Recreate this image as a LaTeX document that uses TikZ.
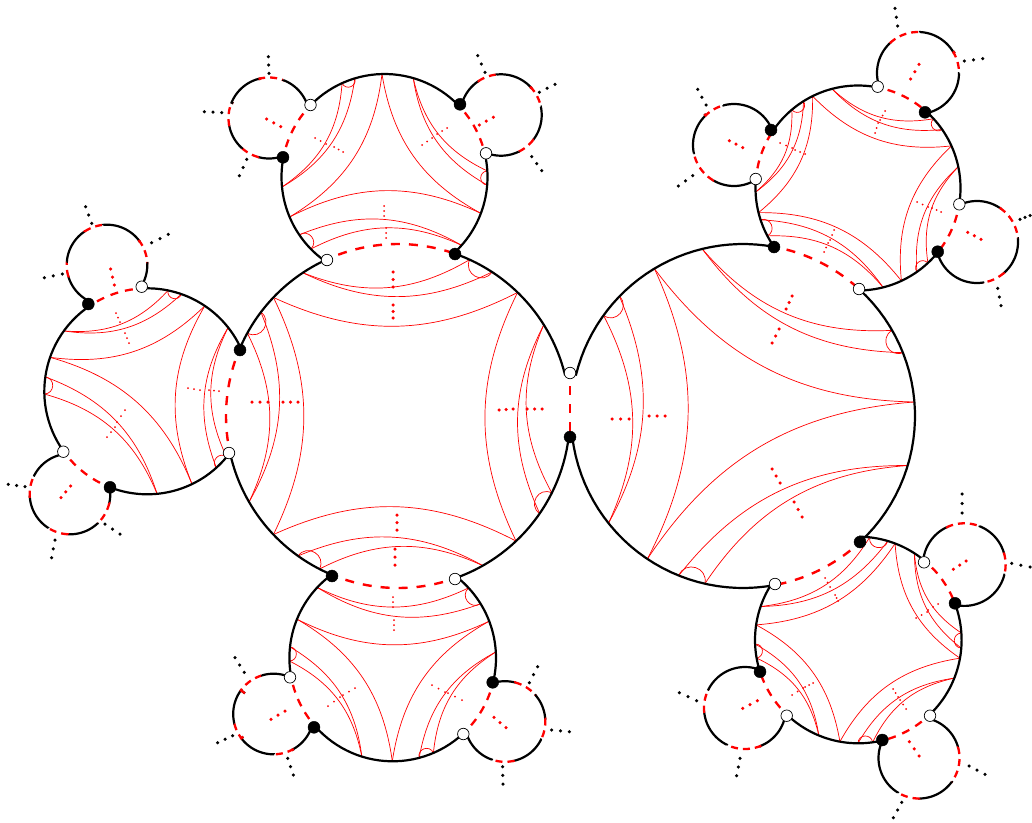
\documentclass[tikz,border=0pt]{standalone}
\tikzset{
  bkrim/.style={black, line width=2.2pt},
  rdrim/.style={red, line width=2.3pt, dash pattern=on 7pt off 5pt},
  rdport/.style={red, line width=2.3pt, dash pattern=on 8pt off 7pt, dash phase=4pt},
  rdmain/.style={red, line width=2.4pt, dash pattern=on 9pt off 9pt, dash phase=5pt},
  geoline/.style={red, line width=0.7pt},
  bkdots/.style={black, radius=1.75pt},
  rddots/.style={red, radius=1.75pt},
  thindots/.style={red, radius=1pt},
  blackpt/.style={circle, fill=black, draw=black, inner sep=0pt, minimum size=12pt},
  whitept/.style={circle, fill=white, draw=black, line width=0.7pt, inner sep=0pt, minimum size=11.5pt}
}
% arc of a disk, clockwise on the page, between two points
\newcommand{\rimarc}[8]{
  \pgfmathsetmacro\aone{atan2(#6-#3,#5-#2)}
  \pgfmathsetmacro\atwo{atan2(#8-#3,#7-#2)}
  \pgfmathsetmacro\atwo{\atwo<\aone ? \atwo+360 : \atwo}
  \draw[#1] (#5,#6) -- plot[domain=\aone:\atwo,samples=30,variable=\t] ({#2+#4*cos(\t)},{#3+#4*sin(\t)}) -- (#7,#8);
}
\newcommand{\rimchain}[6]{
  \foreach \xb/\yb/\stl [remember=\xb as \xa (initially #4),remember=\yb as \ya (initially #5)] in {#6}
    {\rimarc{\stl}{#1}{#2}{#3}{\xa}{\ya}{\xb}{\yb}}
}
% curves between two rim points: short ones stand square on the rim, long ones bend by a fixed amount
\newcommand{\geolist}[4]{
  \foreach \xa/\ya/\xb/\yb in {#4} {
    \pgfmathsetmacro\aone{atan2(\ya-#2,\xa-#1)}
    \pgfmathsetmacro\atwo{atan2(\yb-#2,\xb-#1)}
    \pgfmathsetmacro\half{acos(cos(\atwo-\aone))/2}
    \pgfmathsetmacro\pax{#1+#3*cos(\aone)}
    \pgfmathsetmacro\pay{#2+#3*sin(\aone)}
    \pgfmathsetmacro\pbx{#1+#3*cos(\atwo)}
    \pgfmathsetmacro\pby{#2+#3*sin(\atwo)}
    \pgfmathsetmacro\kk{4/3*tan(45-\half/2)*tan(\half)}
    \pgfmathsetmacro\dx{\pbx-\pax}
    \pgfmathsetmacro\dy{\pby-\pay}
    \pgfmathsetmacro\sd{((#1-\pax)*0.01*(-\dy)*0.01+(#2-\pay)*0.01*\dx*0.01)>0 ? 1 : -1}
    \pgfmathsetmacro\cax{\half<15 ? \pax+\kk*(#1-\pax) : \pax+0.35*\dx-0.171*\sd*\dy}
    \pgfmathsetmacro\cay{\half<15 ? \pay+\kk*(#2-\pay) : \pay+0.35*\dy+0.171*\sd*\dx}
    \pgfmathsetmacro\cbx{\half<15 ? \pbx+\kk*(#1-\pbx) : \pbx-0.35*\dx-0.171*\sd*\dy}
    \pgfmathsetmacro\cby{\half<15 ? \pby+\kk*(#2-\pby) : \pby-0.35*\dy+0.171*\sd*\dx}
    \draw[geoline] (\pax,\pay) .. controls (\cax,\cay) and (\cbx,\cby) .. (\pbx,\pby);
  }
}
% three dots between two end points
\newcommand{\dotlist}[2]{
  \foreach \xa/\ya/\xb/\yb in {#2}
    \foreach \tt in {0,0.5,1}
      \fill[#1] ({\xa+\tt*(\xb-\xa)},{\ya+\tt*(\yb-\ya)}) circle;
}
\begin{document}
\begin{tikzpicture}[x=1pt, y=-1pt]
 \useasboundingbox (0,0) rectangle (1032,822);
 % left big disk
 \geolist{398}{416}{172}{303/273/469/261, 303/273/492/272, 469/261/492/272, 274/298/518/292,
   518/292/516/541, 545/324/539/513, 545/324/552/493, 539/513/552/493,
   274/534/516/541, 298/556/483/566, 320/568/483/566, 298/556/320/568,
   274/298/274/534, 262/313/249/502, 249/334/249/502, 262/313/249/334}
 \rimarc{bkrim}{398}{416}{172}{570}{437}{455}{579}
 \rimarc{bkrim}{398}{416}{172}{332}{576}{229}{453}
 \rimarc{bkrim}{398}{416}{172}{240}{350}{327}{260}
 \rimarc{bkrim}{398}{416}{172}{455}{254}{570}{373}
 \rimarc{rdmain}{398}{416}{172}{327}{260}{455}{254}
 \rimarc{rdmain}{398}{416}{172}{455}{579}{332}{576}
 \rimarc{rdmain}{398}{416}{172}{229}{453}{240}{350}
 \dotlist{rddots}{393/272/393/287, 393/305/393/318, 252/402/268/402, 283/402/298/402,
   499/410/513/409, 527/409/542/409, 395/549/395/565, 397/515/397/530}
 % right big disk
 \geolist{743}{416}{172}{618/295/610/522, 603/315/610/522, 618/295/603/315, 654/268/648/558,
   702/248/891/331, 702/248/902/353, 891/331/902/353, 654/268/914/402,
   648/558/914/402, 679/575/906/465, 705/583/906/465, 679/575/705/583}
 \rimarc{bkrim}{743}{416}{172}{859}{289}{860}{542}
 \rimarc{bkrim}{743}{416}{172}{775}{584}{570}{437}
 \rimarc{bkrim}{743}{416}{172}{570}{373}{774}{247}
 \rimarc{rdmain}{743}{416}{172}{774}{247}{859}{289}
 \rimarc{rdmain}{743}{416}{172}{860}{542}{775}{584}
 \draw[rdmain] (570,373) -- (570,437);
 \dotlist{rddots}{792/296/786/309, 779/329/772/343, 772/469/780/483, 794/502/802/517,
   612/419/629/419, 649/416/665/416}
 % top disk
 \geolist{384.5}{177}{103}{342/83/282/187, 355/79/282/187, 342/83/355/79, 382/75/292/216,
   382/75/480/213, 413/79/487/185, 413/79/487/171, 487/185/487/171,
   292/216/480/213, 302/233/459/243, 315/245/459/243, 302/233/315/245}
 \rimarc{bkrim}{384.5}{177}{103}{310.5}{105}{460}{104.3}
 \rimarc{bkrim}{384.5}{177}{103}{486}{153.3}{455}{254}
 \rimarc{bkrim}{384.5}{177}{103}{327}{260}{283}{157.3}
 \rimarc{rdport}{384.5}{177}{103}{283}{157.3}{310.5}{105}
 \rimarc{rdport}{384.5}{177}{103}{460}{104.3}{486}{153.3}
 \dotlist{thindots}{315/138/326/144, 334/147/343/152, 422/145/432/138, 437/134/447/128,
   384/206/384/216, 386/228/386/238}
 \rimchain{269}{118}{40.5}{283}{157.3}{258.3/156.7/bkrim, 241.7/148.3/rdrim, 230/125/bkrim,
   233.3/103.3/rdrim, 260/80/bkrim, 283.3/80/rdrim, 310.5/105/bkrim}
 \dotlist{bkdots}{246.7/159.3/239.3/175.7, 221.7/112.7/204.3/111.7, 269/73.3/268.3/56.7}
 \dotlist{rddots}{266.7/119/280.7/126.7}
 \rimchain{501}{115}{40.7}{460}{104.3}{478.3/80.7/bkrim, 496.7/75/rdrim, 530/88.3/bkrim,
   540.7/106.7/rdrim, 533.3/140/bkrim, 518.3/151.7/rdrim, 486/153.3/bkrim}
 \dotlist{bkdots}{485/72.3/477.7/55.7, 539.3/92.3/555/84.3, 531.7/156.7/541.7/170.7}
 \dotlist{rddots}{479.3/125/493.3/117.3}
 % left disk
 \geolist{147.3}{391.3}{103}{64/331/168/291, 64/331/181/295, 168/291/181/295, 52/358/204/307,
   204/307/191/482, 225/330/213/464, 225/330/223/454, 213/464/223/454,
   52/358/191/482, 46/377/157/493, 45/394/157/493, 46/377/45/394}
 \rimarc{bkrim}{147.3}{391.3}{103}{141.7}{286.7}{240}{350}
 \rimarc{bkrim}{147.3}{391.3}{103}{229}{453}{110}{487.3}
 \rimarc{bkrim}{147.3}{391.3}{103}{63.3}{451.7}{88.3}{304}
 \rimarc{rdport}{147.3}{391.3}{103}{88.3}{304}{141.7}{286.7}
 \rimarc{rdport}{147.3}{391.3}{103}{110}{487.3}{63.3}{451.7}
 \dotlist{thindots}{116/313/120/322, 125/333/129/343, 188/388/200/390, 209/390/219/391,
   107/437/115/427, 117/422/125/410}
 \rimchain{107}{265}{40.3}{88.3}{304}{68.3/276.7/bkrim, 66.7/261.7/rdrim, 85/231.7/bkrim,
   103.3/225/rdrim, 138.3/241.7/bkrim, 146.7/263.3/rdrim, 141.7/286.7/bkrim}
 \dotlist{bkdots}{62.3/274/44.3/277.7, 91.7/223.3/85.7/206.7, 151.7/242.7/168.3/234.3}
 \dotlist{rddots}{110.7/269/114.3/285}
 \rimchain{70}{494}{40.3}{110}{487.3}{109/503.3/bkrim, 97/523/rdrim, 68/534.3/bkrim,
   48/528/rdrim, 30.7/496.7/bkrim, 33.3/475/rdrim, 63.3/451.7/bkrim}
 \dotlist{bkdots}{25/486.7/8.3/484.3, 55/540/51.7/557.7, 105/524/120/534}
 \dotlist{rddots}{70.7/486/61/497.7}
 % bottom disk
 \geolist{392.7}{658}{103.3}{320/590/463/593, 320/590/477/606, 463/593/477/606, 299/620/487/622,
   299/620/392.3/760, 291/647/362/756, 290/661/362/756, 291/647/290/661,
   392.3/760/487/622, 495/652/419/757, 495/652/433/752, 419/757/433/752}
 \rimarc{bkrim}{392.7}{658}{103.3}{455}{579}{492.7}{682.3}
 \rimarc{bkrim}{392.7}{658}{103.3}{463.3}{734}{314}{727.3}
 \rimarc{bkrim}{392.7}{658}{103.3}{290}{677.3}{332}{576}
 \rimarc{rdport}{392.7}{658}{103.3}{492.7}{682.3}{463.3}{734}
 \rimarc{rdport}{392.7}{658}{103.3}{314}{727.3}{290}{677.3}
 \dotlist{thindots}{393/597/393/607, 394/620/394/630, 328/706/340/697, 343/695/355/688,
   432/685/445/692, 448/693/462/700}
 \rimchain{273.5}{714}{40.3}{314}{727.3}{293.3/750.7/bkrim, 274/754.3/rdrim, 243.3/736.7/bkrim,
   234.3/723.3/rdrim, 245/693.3/bkrim, 262/674.7/rdrim, 290/677.3/bkrim}
 \dotlist{bkdots}{287.7/758.3/293.3/775, 232.7/735.7/217.7/742.7, 244.3/672.3/235/657.7}
 \dotlist{rddots}{285/711/271/719.3}
 \rimchain{505}{721.5}{40.3}{492.7}{682.3}{515/682.7/bkrim, 535/695.7/rdrim, 545/718.7/bkrim,
   541.7/740/rdrim, 513.3/760/bkrim, 491.7/760/rdrim, 463.3/734/bkrim}
 \dotlist{bkdots}{529.3/682.7/537.7/666.7, 551.7/730/569.3/731.7, 502.7/766.7/503/784}
 \dotlist{rddots}{494/717.3/506/727.7}
 % upper right disk
 \geolist{858}{188}{102.5}{792/110/757/192, 804/102/757/192, 792/110/804/102, 813/97/761/212,
   813/97/949/147, 832/89/930/122, 832/89/940/131, 930/122/940/131,
   949/147/901/280, 957/167/917/272, 957/167/927/262, 917/272/927/262,
   761/212/901/280, 763/219/883/287, 771/234/883/287, 763/219/771/234}
 \rimarc{bkrim}{858}{188}{102.5}{771}{130}{877.7}{86.7}
 \rimarc{bkrim}{858}{188}{102.5}{925}{112.3}{959.3}{204.3}
 \rimarc{bkrim}{858}{188}{102.5}{937.7}{251.7}{859}{289}
 \rimarc{bkrim}{858}{188}{102.5}{774}{247}{755.7}{179}
 \rimarc{rdport}{858}{188}{102.5}{755.7}{179}{771}{130}
 \rimarc{rdport}{858}{188}{102.5}{877.7}{86.7}{925}{112.3}
 \rimarc{rdport}{858}{188}{102.5}{959.3}{204.3}{937.7}{251.7}
 \dotlist{thindots}{780/143/792/148, 795/150/805/154, 885/111/880/120, 878/123/875/133,
   917/202/928/207, 932/208/941/212, 834/230/830/240, 828/243/824/252}
 \rimchain{734}{145}{41}{755.7}{179}{713.3/180/bkrim, 693.3/153.3/rdrim, 704.3/114/bkrim,
   723.3/105/rdrim, 771/130/bkrim}
 \dotlist{bkdots}{692.7/175.7/678.3/186, 706/105/697.7/89.3}
 \dotlist{rddots}{729.3/140.7/742.7/147.7}
 \rimchain{918}{73}{41}{877.7}{86.7}{890/41.7/bkrim, 920/32.3/rdrim, 955/51.7/bkrim,
   959.3/73.3/rdrim, 925/112.3/bkrim}
 \dotlist{bkdots}{897.7/26/895/8.3, 964.3/61/982.7/58.7}
 \dotlist{rddots}{910.7/79/919/64.3}
 \rimchain{977}{242}{41}{959.3}{204.3}{1000/209.3/bkrim, 1017.7/238.3/rdrim, 1003.3/272.7/bkrim,
   983.3/283.3/rdrim, 937.7/251.7/bkrim}
 \dotlist{bkdots}{1020/219.3/1030/215.5, 997.7/288.3/1001/305.7}
 \dotlist{rddots}{967.7/232.3/981/239.3}
 % lower right disk
 \geolist{858.3}{640}{103.3}{869/543/762/607, 886/547/762/607, 869/543/886/547, 893/549/757/625,
   893/549/959/658, 912/557/961/633, 912/557/960/648, 961/633/960/648,
   959/658/840/741, 954/678/858/742, 954/678/872/738, 858/742/872/738,
   757/625/840/741, 756/644/819/735, 757/658/819/735, 756/644/757/658}
 \rimarc{bkrim}{858.3}{640}{103.3}{860}{542}{924}{562.3}
 \rimarc{bkrim}{858.3}{640}{103.3}{955}{603.3}{930}{715.7}
 \rimarc{bkrim}{858.3}{640}{103.3}{882.3}{740}{786.7}{715.7}
 \rimarc{bkrim}{858.3}{640}{103.3}{760}{671.7}{775}{584}
 \rimarc{rdport}{858.3}{640}{103.3}{924}{562.3}{955}{603.3}
 \rimarc{rdport}{858.3}{640}{103.3}{930}{715.7}{882.3}{740}
 \rimarc{rdport}{858.3}{640}{103.3}{786.7}{715.7}{760}{671.7}
 \dotlist{thindots}{825/578/830/587, 835/595/838/601, 916/618/927/612, 928/610/938/604,
   893/689/898/697, 900/700/906/709, 792/695/803/688, 805/687/813/683}
 \rimchain{964.3}{564.6}{41.3}{924}{562.3}{946.7/526.7/bkrim, 980/525.7/rdrim, 1005/553.3/bkrim,
   1005/575/rdrim, 955/603.3/bkrim}
 \dotlist{bkdots}{1011.7/563.3/1030/567, 962/494/962/513}
 \dotlist{rddots}{953.3/569.3/966/561}
 \rimchain{745}{708}{41}{786.7}{715.7}{760.7/747.3/bkrim, 726.7/745/rdrim, 705/711.7/bkrim,
   709.3/690/rdrim, 760/671.7/bkrim}
 \dotlist{bkdots}{740/758.3/736.7/775.7, 696.7/700.7/679.3/692.7}
 \dotlist{rddots}{757.3/700.7/742.7/708.3}
 \rimchain{919}{758}{40.5}{930}{715.7}{958.3/747.3/bkrim, 951.7/781.7/rdrim, 919.3/798.3/bkrim,
   897.7/792.7/rdrim, 882.3/740/bkrim}
 \dotlist{bkdots}{969/766/985/774.3, 901.7/802.3/893.3/817.7}
 \dotlist{rddots}{909.3/741.7/919/756}
 % marked points
 \node[whitept] (lrw) at (570,373) {};
 \node[blackpt] (lrb) at (570,437) {};
 \node[whitept] (ltw) at (327,260) {};
 \node[blackpt] (ltb) at (455,254) {};
 \node[blackpt] (lmb) at (240,350) {};
 \node[whitept] (lmw) at (229,453) {};
 \node[blackpt] (lbb) at (332,576) {};
 \node[whitept] (lbw) at (455,579) {};
 \node[blackpt] (reb) at (774,247) {};
 \node[whitept] (rew) at (859,289) {};
 \node[blackpt] (rfb) at (860,542) {};
 \node[whitept] (rfw) at (775,584) {};
 \node[blackpt] (t1b) at (283,157.3) {};
 \node[whitept] (t1w) at (310.5,105) {};
 \node[blackpt] (t2b) at (460,104.3) {};
 \node[whitept] (t2w) at (486,153.3) {};
 \node[blackpt] (m1b) at (88.3,304) {};
 \node[whitept] (m1w) at (141.7,286.7) {};
 \node[blackpt] (m2b) at (110,487.3) {};
 \node[whitept] (m2w) at (63.3,451.7) {};
 \node[blackpt] (b1b) at (314,727.3) {};
 \node[whitept] (b1w) at (290,677.3) {};
 \node[blackpt] (b2b) at (492.7,682.3) {};
 \node[whitept] (b2w) at (463.3,734) {};
 \node[blackpt] (e1b) at (771,130) {};
 \node[whitept] (e1w) at (755.7,179) {};
 \node[blackpt] (e2b) at (925,112.3) {};
 \node[whitept] (e2w) at (877.7,86.7) {};
 \node[blackpt] (e3b) at (937.7,251.7) {};
 \node[whitept] (e3w) at (959.3,204.3) {};
 \node[blackpt] (f1b) at (955,603.3) {};
 \node[whitept] (f1w) at (924,562.3) {};
 \node[blackpt] (f2b) at (760,671.7) {};
 \node[whitept] (f2w) at (786.7,715.7) {};
 \node[blackpt] (f3b) at (882.3,740) {};
 \node[whitept] (f3w) at (930,715.7) {};
\end{tikzpicture}
\end{document}
